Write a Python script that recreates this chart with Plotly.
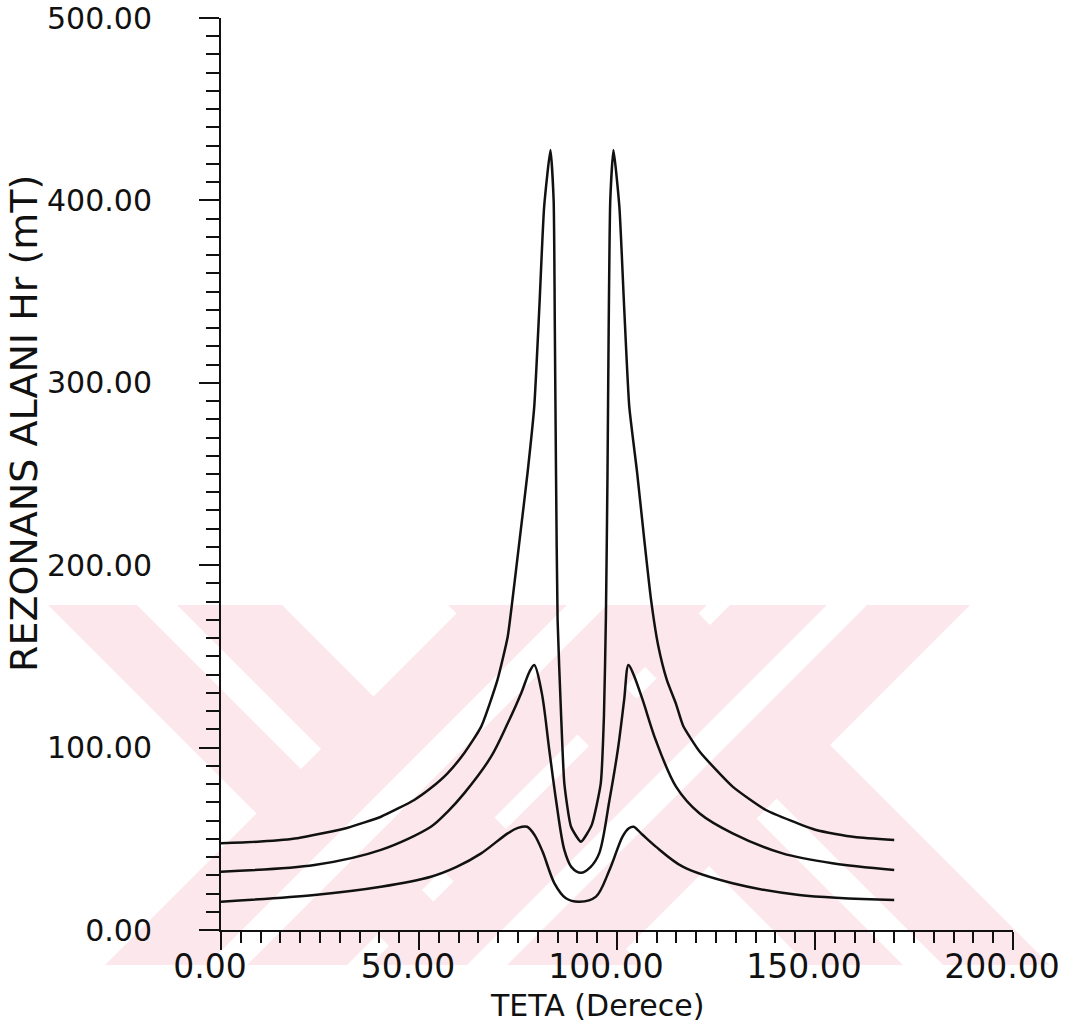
import plotly.graph_objects as go

# ---------------- data ----------------
teta_top = [0, 10, 19.3, 32, 40.4, 48.8, 53.0, 57.2, 61.4, 65.7, 69.8, 72.4, 73.6, 75.4, 77.4, 79.1,
            80.4, 81.6, 83.2, 84.0, 84.3, 84.6, 85.0, 85.9, 86.7, 88.4, 90.9, 93.6, 95.9,
            96.7, 97.2, 97.6, 97.9, 98.3, 99.1, 100.6, 101.8, 103.1, 105.1, 106.9, 108.6,
            110.4, 112.6, 114.9, 116.7, 120.8, 129.2, 137.6, 150.3, 160.0, 170.0]
hr_top = [47.5, 48.5, 50.3, 56.1, 62.1, 71.3, 77.8, 85.9, 96.9, 111.5, 137.0, 160.8, 181.0, 213.8,
          250.4, 286.9, 341.7, 396.5, 427.6, 400.0, 330.0, 250.0, 170.0, 117.0, 80.4, 56.6, 48.4,
          57.5, 80.4, 117.0, 171.8, 250.0, 330.0, 400.0, 427.6, 396.5, 341.7, 286.9, 250.4,
          213.8, 181.0, 156.0, 137.0, 124.0, 112.0, 98.0, 78.6, 65.8, 54.8, 51.0, 49.3]

teta_mid = [0, 23.6, 40.4, 53.0, 57.2, 61.4, 68.2, 72.4, 75.8, 77.9, 79.1, 81.0, 82.9, 84.6, 86.7,
            88.5, 90.9, 93.3, 95.5, 98.1, 100.2, 101.8, 102.9, 104.2, 106.5, 109.8, 114.9,
            120.8, 129.2, 141.8, 154.4, 170.0]
hr_mid = [32.0, 35.6, 43.9, 56.6, 64.8, 74.9, 95.0, 113.3, 129.8, 141.6, 145.3, 130.0, 98.7, 71.3,
          43.9, 34.5, 31.4, 34.5, 42.0, 71.3, 98.7, 126.0, 145.3, 140.0, 126.0, 104.0, 78.6,
          64.0, 53.0, 42.0, 36.6, 32.9]

teta_bot = [0, 23.6, 40.4, 53.0, 59.5, 65.7, 72.4, 75.0, 77.3, 79.2, 81.2, 84.2, 87.1, 90.5, 94.7,
            98.1, 101.4, 103.0, 104.2, 106.3, 109.8, 116.6, 129.2, 146.0, 170.0]
hr_bot = [15.5, 19.2, 23.7, 29.2, 34.6, 42.0, 53.0, 56.0, 56.6, 52.0, 43.0, 25.6, 17.4, 15.5, 18.3,
          32.9, 51.2, 55.8, 56.6, 52.5, 45.7, 34.7, 25.6, 19.2, 16.4]

x_ticks = [0, 50, 100, 150, 200]
y_ticks = [0, 100, 200, 300, 400, 500]

# ---------------- figure ----------------
W, H = 1074, 1031
ML, MR, MT, MB = 221, 61, 18, 101
PW, PH = W - ML - MR, H - MT - MB
FONT = "DejaVu Sans"
INK = "#111111"
PINK = "#fce8ec"


def px(x):
    return (x - ML) / PW


def py(y):
    return (H - MB - y) / PH


def band_path(x_left, width, slope, y0=605, y1=965):
    """Diagonal watermark band (slope +1 = '\\', -1 = '/'), page-pixel geometry."""
    d = (y1 - y0) * slope
    pts = [(x_left, y0), (x_left + width, y0), (x_left + width + d, y1), (x_left + d, y1)]
    return "M " + " L ".join(f"{px(a):.5f},{py(b):.5f}" for a, b in pts) + " Z"


fig = go.Figure()

# background watermark (light pink double-stroke crosses)
bands = [(48, 234, 1, 89), (448, 242, 1, 95), (465, 242, -1, 102), (730, 240, -1, 97)]
for xl, w, s, off in bands:
    fig.add_shape(type="path", path=band_path(xl, w, s), xref="paper", yref="paper",
                  fillcolor=PINK, line=dict(width=0), layer="below")
    fig.add_shape(type="path", path=band_path(xl + off, 40, s), xref="paper", yref="paper",
                  fillcolor="white", line=dict(width=0), layer="below")

for xs, ys, sm in [(teta_top, hr_top, 0.5), (teta_mid, hr_mid, 0.9), (teta_bot, hr_bot, 0.9)]:
    fig.add_trace(go.Scatter(x=xs, y=ys, mode="lines",
                             line=dict(color=INK, width=2.5, shape="spline", smoothing=sm),
                             showlegend=False, hoverinfo="skip"))

fig.update_layout(
    width=W, height=H,
    margin=dict(l=ML, r=MR, t=MT, b=MB, pad=0, autoexpand=False),
    paper_bgcolor="white", plot_bgcolor="rgba(0,0,0,0)",
    font=dict(family=FONT, color=INK),
    showlegend=False,
)

fig.update_xaxes(
    range=[-0.0001, 200.0001], tickvals=x_ticks, ticktext=[f"{v:.2f}" for v in x_ticks],
    ticks="outside", ticklen=18, tickwidth=2, tickcolor=INK,
    minor=dict(dtick=5, ticklen=11, tickwidth=2, tickcolor=INK, ticks="outside", showgrid=False),
    showline=True, linecolor=INK, linewidth=2, showgrid=False, zeroline=False, automargin=False,
    tickfont=dict(family=FONT, size=33, color=INK), ticklabelshift=-11, ticklabelstandoff=-12,
)
fig.update_yaxes(
    range=[-0.001, 500.001], tickvals=y_ticks, ticktext=[f"{v:.2f}" for v in y_ticks],
    ticks="outside", ticklen=20, tickwidth=2, tickcolor=INK,
    minor=dict(dtick=10, ticklen=13, tickwidth=2, tickcolor=INK, ticks="outside", showgrid=False),
    showline=True, linecolor=INK, linewidth=2, showgrid=False, zeroline=False, automargin=False,
    tickfont=dict(family=FONT, size=30, color=INK), ticklabelstandoff=41,
)

fig.add_annotation(text="TETA (Derece)", xref="paper", yref="paper",
                   x=px(597), y=py(1005),
                   xanchor="center", yanchor="middle", showarrow=False,
                   font=dict(family=FONT, size=30, color=INK))
fig.add_annotation(text="REZONANS ALANI Hr (mT)", xref="paper", yref="paper",
                   x=px(24), y=py(424), textangle=-90,
                   xanchor="center", yanchor="middle", showarrow=False,
                   font=dict(family=FONT, size=38, color=INK))

fig.write_html("out.html")
